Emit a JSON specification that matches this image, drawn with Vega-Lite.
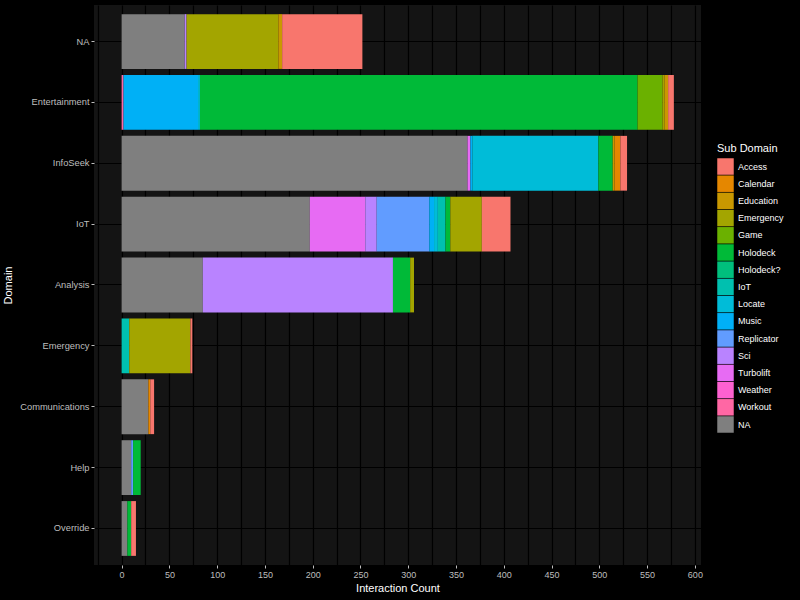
{
  "$schema": "https://vega.github.io/schema/vega-lite/v6.json",
  "width": 607,
  "height": 560,
  "autosize": {"type": "none"},
  "padding": {"left": 94, "top": 5, "right": 99, "bottom": 35},
  "background": "#000000",
  "config": {
    "view": {"fill": "#141414", "stroke": null},
    "font": "Liberation Sans",
    "axis": {"domain": false, "gridColor": "#000000", "gridWidth": 1.2, "labelColor": "#BEBEBE", "labelFontSize": 9, "tickColor": "#BEBEBE", "tickSize": 3, "titleColor": "#FFFFFF", "titleFontSize": 11, "titleFontWeight": "normal"},
    "legend": {"labelColor": "#FFFFFF", "titleColor": "#FFFFFF", "titleFontWeight": "normal", "titleFontSize": 11, "labelFontSize": 9, "symbolType": "square", "symbolSize": 272, "symbolStrokeWidth": 0, "rowPadding": 0.2, "symbolOpacity": 1, "titlePadding": 4}
  },
  "data": {"values": [
    {"domain": "NA", "sub": "NA", "count": 66},
    {"domain": "NA", "sub": "Sci", "count": 2},
    {"domain": "NA", "sub": "Emergency", "count": 96},
    {"domain": "NA", "sub": "Education", "count": 4},
    {"domain": "NA", "sub": "Access", "count": 84},
    {"domain": "Entertainment", "sub": "Workout", "count": 2},
    {"domain": "Entertainment", "sub": "Music", "count": 78},
    {"domain": "Entertainment", "sub": "Locate", "count": 2},
    {"domain": "Entertainment", "sub": "Holodeck", "count": 458},
    {"domain": "Entertainment", "sub": "Game", "count": 26},
    {"domain": "Entertainment", "sub": "Emergency", "count": 2},
    {"domain": "Entertainment", "sub": "Education", "count": 4},
    {"domain": "Entertainment", "sub": "Access", "count": 6},
    {"domain": "InfoSeek", "sub": "NA", "count": 362},
    {"domain": "InfoSeek", "sub": "Turbolift", "count": 3},
    {"domain": "InfoSeek", "sub": "Music", "count": 2},
    {"domain": "InfoSeek", "sub": "Locate", "count": 132},
    {"domain": "InfoSeek", "sub": "Holodeck", "count": 15},
    {"domain": "InfoSeek", "sub": "Education", "count": 2},
    {"domain": "InfoSeek", "sub": "Calendar", "count": 6},
    {"domain": "InfoSeek", "sub": "Access", "count": 7},
    {"domain": "IoT", "sub": "NA", "count": 197},
    {"domain": "IoT", "sub": "Turbolift", "count": 58},
    {"domain": "IoT", "sub": "Sci", "count": 12},
    {"domain": "IoT", "sub": "Replicator", "count": 55},
    {"domain": "IoT", "sub": "Music", "count": 5},
    {"domain": "IoT", "sub": "Locate", "count": 4},
    {"domain": "IoT", "sub": "IoT", "count": 8},
    {"domain": "IoT", "sub": "Holodeck", "count": 5},
    {"domain": "IoT", "sub": "Emergency", "count": 33},
    {"domain": "IoT", "sub": "Access", "count": 30},
    {"domain": "Analysis", "sub": "NA", "count": 85},
    {"domain": "Analysis", "sub": "Sci", "count": 199},
    {"domain": "Analysis", "sub": "Holodeck", "count": 18},
    {"domain": "Analysis", "sub": "Emergency", "count": 4},
    {"domain": "Emergency", "sub": "IoT", "count": 8},
    {"domain": "Emergency", "sub": "Emergency", "count": 64},
    {"domain": "Emergency", "sub": "Access", "count": 2},
    {"domain": "Communications", "sub": "NA", "count": 28},
    {"domain": "Communications", "sub": "Calendar", "count": 2},
    {"domain": "Communications", "sub": "Access", "count": 4},
    {"domain": "Help", "sub": "NA", "count": 10},
    {"domain": "Help", "sub": "Replicator", "count": 2},
    {"domain": "Help", "sub": "Holodeck", "count": 8},
    {"domain": "Override", "sub": "NA", "count": 6},
    {"domain": "Override", "sub": "Holodeck", "count": 4},
    {"domain": "Override", "sub": "Access", "count": 5}
  ]},
  "transform": [
    {"calculate": "indexof(['Access','Calendar','Education','Emergency','Game','Holodeck','Holodeck?','IoT','Locate','Music','Replicator','Sci','Turbolift','Weather','Workout','NA'], datum.sub)", "as": "stackIdx"}
  ],
  "mark": {"type": "bar", "strokeWidth": 0},
  "encoding": {
    "y": {
      "field": "domain", "type": "nominal", "title": "Domain",
      "sort": ["NA", "Entertainment", "InfoSeek", "IoT", "Analysis", "Emergency", "Communications", "Help", "Override"],
      "scale": {"paddingInner": 0.1, "paddingOuter": 0.15},
      "axis": {"grid": true, "bandPosition": 0.5, "labelPadding": 2, "titlePadding": 6, "labelFontSize": 9.3}
    },
    "x": {
      "field": "count", "type": "quantitative", "title": "Interaction Count", "stack": "zero",
      "scale": {"domain": [-28.9, 606.4], "nice": false, "zero": false},
      "axis": {
        "values": [-25, 0, 25, 50, 75, 100, 125, 150, 175, 200, 225, 250, 275, 300, 325, 350, 375, 400, 425, 450, 475, 500, 525, 550, 575, 600],
        "labelExpr": "datum.value >= 0 && datum.value % 50 == 0 ? datum.label : ''",
        "tickOpacity": {"condition": {"test": "datum.value >= 0 && datum.value % 50 == 0", "value": 1}, "value": 0},
        "labelPadding": 2, "titlePadding": 3
      }
    },
    "color": {
      "field": "sub", "type": "nominal", "title": "Sub Domain",
      "scale": {
        "domain": ["Access", "Calendar", "Education", "Emergency", "Game", "Holodeck", "Holodeck?", "IoT", "Locate", "Music", "Replicator", "Sci", "Turbolift", "Weather", "Workout", "NA"],
        "range": ["#F8766D", "#E58700", "#C99800", "#A3A500", "#6BB100", "#00BA38", "#00BF7D", "#00C0AF", "#00BCD8", "#00B0F6", "#619CFF", "#B983FF", "#E76BF3", "#FD61D1", "#FF67A4", "#7F7F7F"]
      },
      "legend": {"orient": "none", "legendX": 623, "legendY": 138}
    },
    "order": {"field": "stackIdx", "type": "quantitative", "sort": "descending"}
  }
}
